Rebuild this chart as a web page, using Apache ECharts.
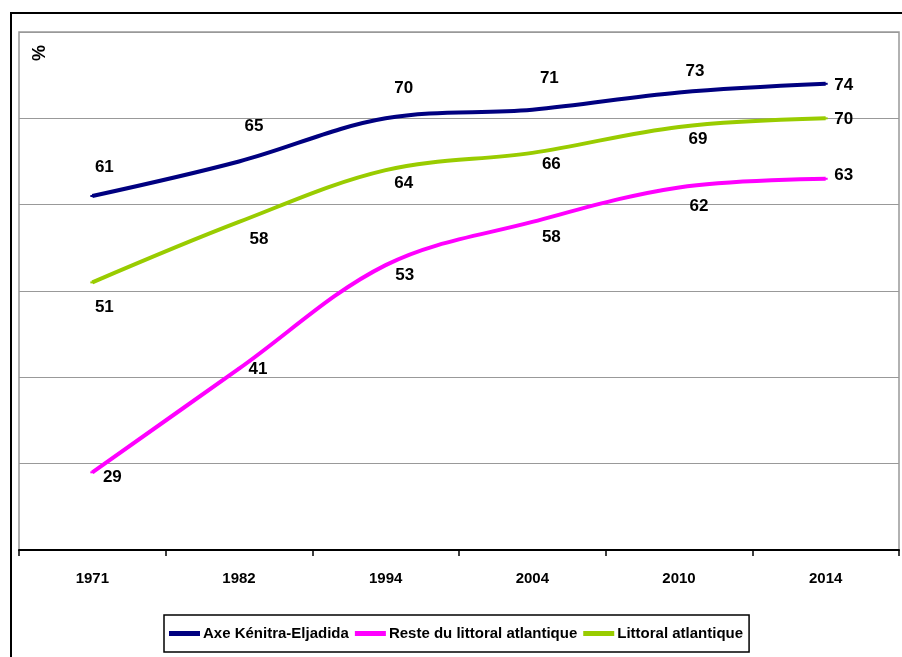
<!DOCTYPE html>
<html>
<head>
<meta charset="utf-8">
<script src="https://cdn.jsdelivr.net/npm/echarts@6/dist/echarts.min.js"></script>
<style>
  html, body { margin: 0; padding: 0; background: #fff; }
  #chart { width: 902px; height: 657px; }
</style>
</head>
<body>
<div id="chart"></div>
<script>
// Années de recensement
var years = ['1971', '1982', '1994', '2004', '2010', '2014'];

// Taux d'urbanisation (%)
var axeKenitraEljadida = [61, 65, 70, 71, 73, 74];
var resteLittoral = [29, 41, 53, 58, 62, 63];
var littoralAtlantique = [51, 58, 64, 66, 69, 70];

var seriesNames = ['Axe Kénitra-Eljadida', 'Reste du littoral atlantique', 'Littoral atlantique'];

// Décalage des étiquettes de valeur autour de chaque point (en px)
var navyLabelOffsets = [[12, -29], [15, -35], [18, -30], [17, -31], [16, -21], [18, 2]];
var pinkLabelOffsets = [[20, 5], [19, 1], [19, 10], [19, 15], [20, 19], [18, -3]];
var greenLabelOffsets = [[12, 25], [20, 17], [18, 13], [19, 11], [19, 12], [18, 1]];

var FONT = '"Liberation Sans Narrow", "Arial Narrow", "Liberation Sans", Arial, sans-serif';

function withLabels(values, offsets) {
  return values.map(function (v, i) {
    return {
      value: v,
      label: { position: 'inside', offset: offsets[i] }
    };
  });
}

function lineSeries(name, values, offsets, color) {
  return {
    name: name,
    type: 'line',
    data: withLabels(values, offsets),
    smooth: 0.35,
    symbol: 'rect',
    symbolSize: [4, 2],
    showSymbol: true,
    itemStyle: { color: color },
    lineStyle: { color: color, width: 4 },
    label: {
      show: true,
      color: '#000',
      fontFamily: FONT,
      fontWeight: 'bold',
      fontSize: 17
    },
    emphasis: { disabled: true },
    animation: false
  };
}

var chart = echarts.init(document.getElementById('chart'), null, { renderer: 'canvas' });

chart.setOption({
  backgroundColor: '#fff',
  animation: false,
  grid: {
    left: 19,
    right: 3,
    top: 32,
    bottom: 107,
    show: true,
    borderColor: '#999',
    borderWidth: 1.5,
    backgroundColor: 'transparent'
  },
  legend: {
    data: seriesNames,
    left: 164,
    top: 615,
    padding: [11, 6, 11, 5],
    borderColor: '#000',
    borderWidth: 1.5,
    icon: 'rect',
    itemWidth: 31,
    itemHeight: 5,
    itemGap: 6,
    textStyle: {
      fontFamily: FONT,
      fontWeight: 'bold',
      fontSize: 15,
      color: '#000',
      padding: [0, 0, 0, -2]
    }
  },
  xAxis: {
    type: 'category',
    data: years,
    boundaryGap: true,
    axisLine: { show: true, lineStyle: { color: '#000', width: 2 } },
    axisTick: { show: true, length: 6, lineStyle: { color: '#000', width: 1.5 } },
    axisLabel: {
      margin: 21,
      color: '#000',
      fontFamily: FONT,
      fontWeight: 'bold',
      fontSize: 15
    },
    splitLine: { show: false }
  },
  yAxis: {
    type: 'value',
    min: 20,
    max: 80,
    interval: 10,
    axisLine: { show: false },
    axisTick: { show: false },
    axisLabel: { show: false },
    splitLine: { show: true, lineStyle: { color: '#999', width: 1 } }
  },
  graphic: [
    {
      type: 'rect',
      shape: { x: 11, y: 13, width: 920, height: 680 },
      style: { fill: 'none', stroke: '#000', lineWidth: 2 },
      silent: true
    },
    {
      type: 'text',
      x: 31,
      y: 61,
      rotation: Math.PI / 2,
      style: {
        text: '%',
        fill: '#000',
        font: 'bold 18px ' + FONT
      },
      silent: true
    }
  ],
  series: [
    lineSeries(seriesNames[0], axeKenitraEljadida, navyLabelOffsets, '#000080'),
    lineSeries(seriesNames[1], resteLittoral, pinkLabelOffsets, '#FF00FF'),
    lineSeries(seriesNames[2], littoralAtlantique, greenLabelOffsets, '#99CC00')
  ]
});
</script>
</body>
</html>
